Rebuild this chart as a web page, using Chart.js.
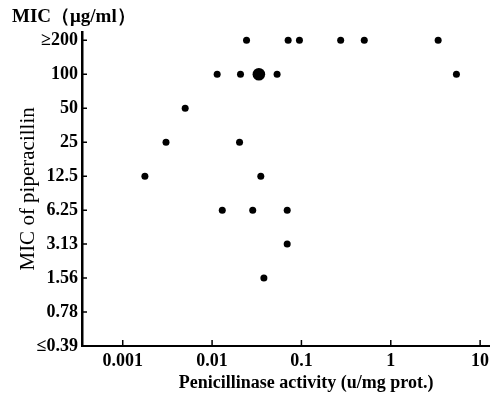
<!DOCTYPE html>
<html>
<head>
<meta charset="utf-8">
<script src="https://cdn.jsdelivr.net/npm/chart.js@4"></script>
<style>
  html, body { margin: 0; padding: 0; background: #fff; }
</style>
</head>
<body>
<canvas id="scatterChart" width="496" height="398"></canvas>
<script>
// MIC steps of piperacillin, bottom to top
var micLabels = ["≤0.39", "0.78", "1.56", "3.13", "6.25", "12.5", "25", "50", "100", "≥200"];
var activityTicks = [0.001, 0.01, 0.1, 1, 10];

// one strain per dot
var strainActivity = [0.0243, 0.071, 0.095, 0.275, 0.505, 3.39,
                      0.0114, 0.0208, 0.0534, 5.43,
                      0.005,
                      0.00305, 0.0203,
                      0.00177, 0.0351,
                      0.013, 0.0285, 0.0693,
                      0.0693,
                      0.038];
var strainMic = ["≥200", "≥200", "≥200", "≥200", "≥200", "≥200",
                 "100", "100", "100", "100",
                 "50",
                 "25", "25",
                 "12.5", "12.5",
                 "6.25", "6.25", "6.25",
                 "3.13",
                 "1.56"];

// several strains on the same spot (big dot)
var groupActivity = [0.0334];
var groupMic = ["100"];

// small tick marks pointing into the plot, like the printed figure
const inwardTicks = {
  id: 'inwardTicks',
  afterDraw(chart) {
    const { ctx, chartArea, scales } = chart;
    ctx.save();
    ctx.strokeStyle = "#000";
    ctx.lineWidth = 1.5;
    ctx.beginPath();
    scales.y.ticks.forEach(t => {
      const py = scales.y.getPixelForValue(t.value);
      ctx.moveTo(chartArea.left, py);
      ctx.lineTo(chartArea.left + 5, py);
    });
    scales.x.ticks.forEach(t => {
      const px = scales.x.getPixelForValue(t.value);
      ctx.moveTo(px, chartArea.bottom);
      ctx.lineTo(px, chartArea.bottom - 6);
    });
    ctx.stroke();
    ctx.restore();
  }
};

const scatterPlot = () => {
    var ctx = document.getElementById('scatterChart').getContext('2d');

    var toPoints = (xs, mics) => xs.map((x, i) => ({ x: x, y: micLabels.indexOf(mics[i]) }));

    var serif = "'Liberation Serif', 'Times New Roman', serif";
    var tickFont = { family: serif, size: 18, weight: 'bold' };

    new Chart(ctx, {
      type: "scatter",
      data: {
        datasets: [{
          data: toPoints(strainActivity, strainMic),
          backgroundColor: "#000",
          borderWidth: 0,
          pointRadius: 3.5
        }, {
          data: toPoints(groupActivity, groupMic),
          backgroundColor: "#000",
          borderWidth: 0,
          pointRadius: 6.3
        }]
      },
      plugins: [inwardTicks],
      options: {
        responsive: false,
        animation: false,
        layout: { padding: { left: 12, right: 3, top: 0, bottom: 0 } },
        plugins: {
          legend: { display: false },
          tooltip: { enabled: false },
          title: {
            display: true,
            text: "MIC（μg/ml）",
            align: 'start',
            color: "#000",
            font: { family: serif, size: 19, weight: 'bold' },
            padding: { top: 6, bottom: 3 }
          }
        },
        scales: {
          x: {
            type: 'logarithmic',
            bounds: 'data',
            min: 0.00035,
            max: 12.8,
            afterBuildTicks: s => { s.ticks = activityTicks.map(v => ({ value: v })); },
            afterFit: s => { s.height = 52; },
            border: { color: "#000", width: 2 },
            grid: { display: false, drawTicks: false },
            ticks: { color: "#000", padding: 5, font: tickFont, maxRotation: 0,
                     callback: v => String(v) },
            title: { display: true, text: "         Penicillinase activity (u/mg prot.)", color: "#000",
                     font: { family: serif, size: 18, weight: 'bold' }, padding: { top: 0, bottom: 4 } }
          },
          y: {
            type: 'linear',
            min: 0,
            max: 9.25,
            afterBuildTicks: s => { s.ticks = micLabels.map((l, i) => ({ value: i })); },
            afterFit: s => { s.width = 70; },
            border: { color: "#000", width: 2.5 },
            grid: { display: false, drawTicks: false },
            ticks: { color: "#000", padding: 4, font: tickFont,
                     callback: v => micLabels[v] },
            title: { display: true, text: "MIC of piperacillin", color: "#000",
                     font: { family: serif, size: 21 },
                     padding: { top: 4, bottom: 0 } }
          }
        }
      }
    });
}

scatterPlot();
</script>
</body>
</html>
